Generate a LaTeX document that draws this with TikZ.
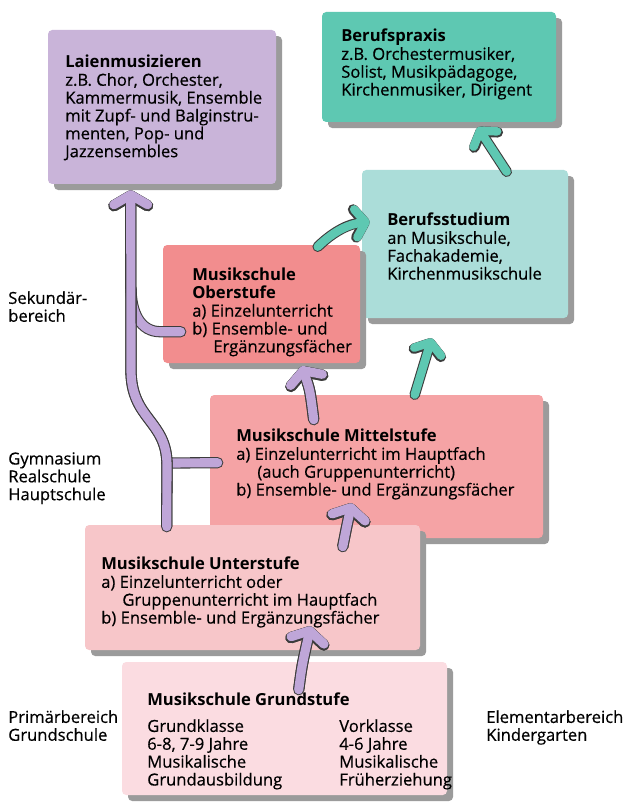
\documentclass[tikz,border=0pt]{standalone}
\usepackage{fontspec}
\setmainfont{Open Sans}[UprightFeatures={FakeBold=0.5}]
\usetikzlibrary{arrows.meta}
\usetikzlibrary{fit}
\usetikzlibrary{calc}
\usetikzlibrary{shadows}
\definecolor{lila}{HTML}{C9B4D9}
\definecolor{lilapfeil}{HTML}{BFA6D8}
\definecolor{tuerkis}{HTML}{5EC8B2}
\definecolor{helltuerkis}{HTML}{ABDDD9}
\definecolor{lachs}{HTML}{F28D8E}
\definecolor{rosa}{HTML}{F5A3A5}
\definecolor{hellrosa}{HTML}{F7C6C9}
\definecolor{blassrosa}{HTML}{FBDCE1}
\definecolor{schatten}{HTML}{9B9B9B}
\definecolor{rand}{HTML}{3C3C3C}
\newcommand{\einr}{\hspace*{15pt}}
\tikzset{
  kasten/.style={inner sep=0pt, rounded corners=3pt,
    drop shadow={shadow xshift=4.3pt, shadow yshift=-4.3pt, fill=schatten, opacity=1}},
  schrift/.style={anchor=north west, inner sep=0pt, align=left,
    font=\fontsize{11.8}{12.7}\selectfont},
  lilaweg/.style={draw=lilapfeil, line width=6.5pt, line cap=round,
    preaction={draw=rand, line width=8pt, line cap=round}},
  lilapf/.style={lilaweg, -{Straight Barb[round, length=7pt, width=24pt]},
    preaction={draw=rand, line width=8pt, -{Straight Barb[round, length=7pt, width=24pt]}}},
  tuerkispf/.style={draw=tuerkis, line width=6pt, line cap=round,
    -{Straight Barb[round, length=7pt, width=20pt]},
    preaction={draw=rand, line width=7.5pt, line cap=round, -{Straight Barb[round, length=7pt, width=20pt]}}}
}
\begin{document}
\begin{tikzpicture}[x=0.025cm, y=-0.025cm]
  \useasboundingbox[fill=white] (0,0) rectangle (624,807);

  \node[kasten, fit={(48,30) (276,184)}, fill=lila] (laien) {};
  \node[kasten, fit={(322,12) (556,122)}, fill=tuerkis] (praxis) {};
  \node[kasten, fit={(362,170) (568,318)}, fill=helltuerkis] (studium) {};
  \node[kasten, fit={(163,245) (360,363)}, fill=lachs] (ober) {};
  \node[kasten, fit={(210,395) (543,538)}, fill=rosa] (mittel) {};
  \node[kasten, fit={(85,525) (420,650)}, fill=hellrosa] (unter) {};
  \node[kasten, fit={(122,662) (447,795)}, fill=blassrosa] (grund) {};

  \node[schrift] (tlaien) at (65,55) {\textbf{Laienmusizieren}\\z.B. Chor, Orchester,\\Kammermusik, Ensemble\\mit Zupf- und Balginstru-\\menten, Pop- und\\Jazzensembles};
  \node[schrift] (tpraxis) at (341,29) {\textbf{Berufspraxis}\\z.B. Orchestermusiker,\\Solist, Musikpädagoge,\\Kirchenmusiker, Dirigent};
  \node[schrift] (tstudium) at (387,213) {\textbf{Berufsstudium}\\an Musikschule,\\Fachakademie,\\Kirchenmusikschule};
  \node[schrift] (tober) at (192,268) {\textbf{Musikschule}\\\textbf{Oberstufe}\\a) Einzelunterricht\\b) Ensemble- und\\\einr Ergänzungsfächer};
  \node[schrift] (tmittel) at (236,429) {\textbf{Musikschule Mittelstufe}\\a) Einzelunterricht im Hauptfach\\\einr (auch Gruppenunterricht)\\b) Ensemble- und Ergänzungsfächer};
  \node[schrift] (tunter) at (101,557) {\textbf{Musikschule Unterstufe}\\a) Einzelunterricht oder\\\einr Gruppenunterricht im Hauptfach\\b) Ensemble- und Ergänzungsfächer};
  \node[schrift] (tgrund) at (147,693) {\textbf{Musikschule Grundstufe}};
  \node[schrift] (tgrundl) at (147,719) {Grundklasse\\6-8, 7-9 Jahre\\Musikalische\\Grundausbildung};
  \node[schrift] (tgrundr) at (339,719) {Vorklasse\\4-6 Jahre\\Musikalische\\Früherziehung};

  \node[schrift] (sek) at (8,291) {Sekundär-\\bereich};
  \node[schrift] (gym) at (8,452) {Gymnasium\\Realschule\\Hauptschule};
  \node[schrift] (prim) at (8,710) {Primärbereich\\Grundschule};
  \node[schrift] (elem) at (486,710) {Elementarbereich\\Kindergarten};

  \draw[lilaweg] ($(ober.north west)+(18,87)$) -- ++(-20,0) .. controls (140,332) and (131,312) .. (131,288);
  \draw[lilaweg] ($(mittel.north west)+(8,68)$) -- (167,463);
  \draw[lilapf] ($(unter.north west)+(82,2)$) -- (167,465) .. controls (167,420) and (131,420) .. (131,370) -- ($(laien.south west)+(83,6)$);
  \draw[lilapf] ($(grund.north west)+(177,28)$) .. controls (302,665) .. ($(unter.south west)+(226,-24)$);
  \draw[lilapf] ($(unter.north west)+(258,22)$) .. controls (347,525) .. ($(mittel.south west)+(142,-35)$);
  \draw[lilapf] ($(mittel.north west)+(104,25)$) .. controls (310,390) .. ($(ober.south west)+(139,3)$);
  \draw[tuerkispf] ($(mittel.north west)+(205,0)$) -- ($(studium.south west)+(70,20)$);
  \draw[tuerkispf] ($(ober.north west)+(155,2)$) .. controls (335,230) and (350,224) .. ($(studium.north west)+(8,52)$);
  \draw[tuerkispf] ($(studium.north west)+(145,2)$) -- ($(praxis.south west)+(156,5)$);
\end{tikzpicture}
\end{document}
